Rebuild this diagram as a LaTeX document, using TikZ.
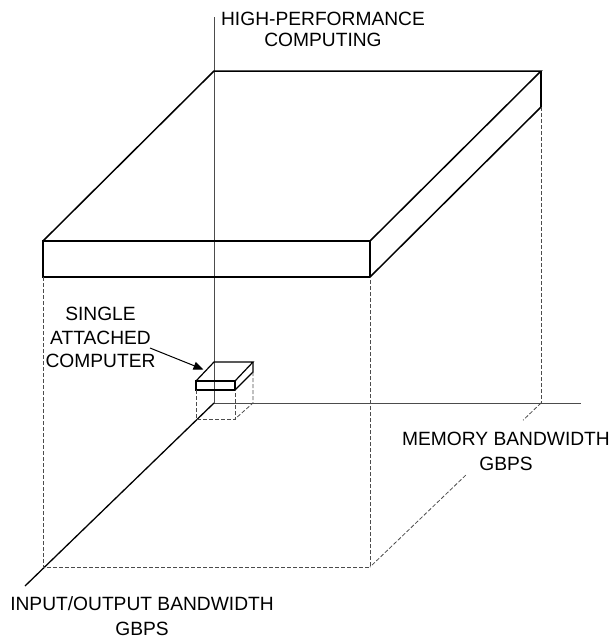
\documentclass[tikz,border=0pt]{standalone}
\usepackage{fontspec}
\setmainfont{Liberation Sans}
\usetikzlibrary{arrows.meta,calc}
\begin{document}
\begin{tikzpicture}[x=1pt,y=-1pt,
  slab/.style={line width=1.5pt, line join=miter},
  thickedge/.style={line width=2pt},
  minibox/.style={line width=1.2pt, line join=miter},
  axis/.style={line width=1pt, draw=black!70},
  diagaxis/.style={line width=1.3pt, draw=black},
  proj/.style={line width=0.8pt, draw=black!70, dash pattern=on 4pt off 2pt},
  lbl/.style={font=\fontsize{19.2}{23}\selectfont, align=center, inner sep=0pt, anchor=base},
  pointer/.style={line width=1pt, -{Triangle[length=10pt,width=8pt]}},
]
\useasboundingbox (0,0) rectangle (613,638);
% axes
\coordinate (O) at (214,403);
\coordinate (vtop) at (214,17);
\coordinate (hend) at (581,403);
\coordinate (dend) at (25,586);
\draw[axis] (O) -- (vtop);
\draw[axis] (O) -- (hend);
\draw[diagaxis] (O) -- (dend);
% big slab
\coordinate (A) at (43,241);
\coordinate (B) at (370,241);
\coordinate (C) at (541,71);
\coordinate (D) at (214,71);
\coordinate (E) at (43,277);
\coordinate (F) at (370,277);
\coordinate (G) at (541,107);
\coordinate (Ef) at (43,567);
\coordinate (Ff) at (370,567);
\coordinate (Gf) at (541,403);
\draw[slab] (A) -- (B) -- (F) -- (E) -- cycle;
\draw[slab] (A) -- (D) -- (C) -- (B);
\draw[slab] (C) -- (G) -- (F);
\draw[thickedge] (B) -- (F);
\draw[thickedge] (C) -- (G);
% projections of the slab
\draw[proj] (E) -- (Ef) -- (Ff) -- (F);
\draw[proj] (G) -- (Gf);
\draw[proj] (Gf) -- ($(Gf)!0.105!(Ff)$);
\draw[proj] ($(Gf)!0.44!(Ff)$) -- (Ff);
% small box
\coordinate (a) at (196,381);
\coordinate (b) at (235,381);
\coordinate (c) at (253,362);
\coordinate (d) at (214,362);
\coordinate (e) at (196,390);
\coordinate (f) at (235,390);
\coordinate (g) at (253,372);
\coordinate (ef) at (196,419);
\coordinate (ff) at (235,419);
\coordinate (gf) at (253,403);
\draw[minibox] (a) -- (b) -- (f) -- (e) -- cycle;
\draw[minibox] (a) -- (d) -- (c) -- (b);
\draw[minibox] (c) -- (g) -- (f);
\draw[proj] (e) -- (ef) -- (ff) -- (f);
\draw[proj] (g) -- (gf) -- (ff);
% labels (base anchor = baseline of the last line)
\node[lbl, font=\fontsize{19.2}{21.7}\selectfont] (hpc) at (323,46.7) {HIGH-PERFORMANCE\\COMPUTING};
\node[lbl, font=\fontsize{19.2}{23.3}\selectfont] (sac) at (100.5,367.3) {SINGLE\\ATTACHED\\COMPUTER};
\node[lbl, font=\fontsize{19.2}{25}\selectfont] (mem) at (506,470.7) {MEMORY BANDWIDTH\\GBPS};
\node[lbl, font=\fontsize{19.2}{25}\selectfont, text depth=0pt] (io) at (142,635) {INPUT/OUTPUT BANDWIDTH\\GBPS};
% pointer
\coordinate (pstart) at (150,348);
\coordinate (ptip) at (203.5,369.5);
\draw[pointer] (pstart) -- (ptip);
\end{tikzpicture}
\end{document}
